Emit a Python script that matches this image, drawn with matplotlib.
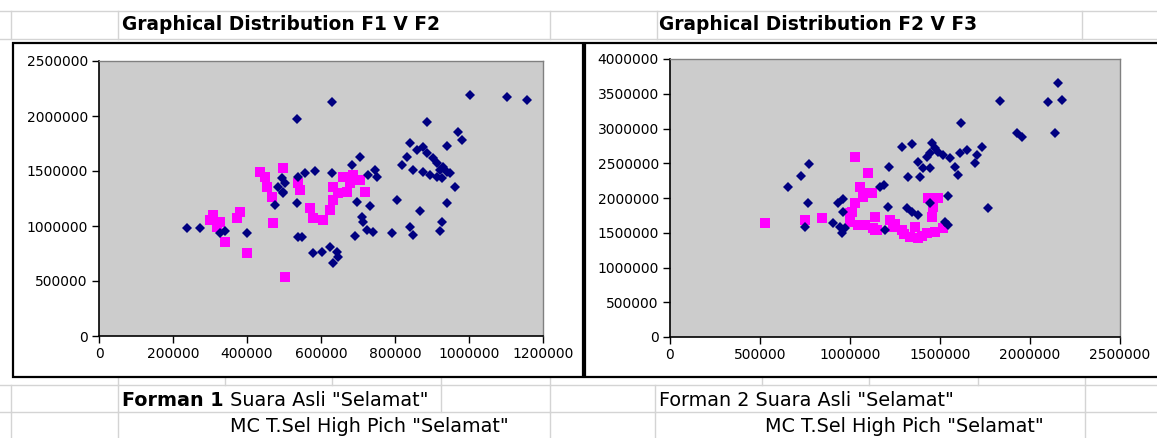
import matplotlib
matplotlib.use("Agg")
import matplotlib.pyplot as plt
from matplotlib.patches import Rectangle
from matplotlib.lines import Line2D

# ---------------- data ----------------
# Chart 1: F1 vs F2
f1_asli = [238000, 273000, 327000, 341000, 400000, 535000, 495000, 484000, 497000, 476000,
           535000, 538000, 630000, 886000, 1003000, 1103000, 1157000, 970000, 981000, 941000,
           841000, 832000, 819000, 859000, 876000, 886000, 903000, 914000, 922000, 930000,
           941000, 949000, 849000, 876000, 895000, 914000, 927000, 962000, 941000, 868000,
           805000, 927000, 922000, 841000, 849000, 792000, 741000, 724000, 714000, 711000,
           692000, 732000, 697000, 705000, 684000, 746000, 751000, 727000, 630000, 584000,
           557000, 538000, 503000, 497000, 549000, 578000, 603000, 624000, 643000, 632000,
           646000]
f2_asli = [982000, 982000, 936000, 955000, 936000, 1973000, 1436000, 1355000, 1300000, 1191000,
           1209000, 900000, 2127000, 1945000, 2191000, 2173000, 2145000, 1855000, 1782000, 1727000,
           1755000, 1627000, 1555000, 1691000, 1718000, 1664000, 1618000, 1573000, 1509000, 1536000,
           1491000, 1482000, 1509000, 1491000, 1464000, 1445000, 1436000, 1355000, 1209000, 1136000,
           1236000, 1036000, 955000, 991000, 918000, 936000, 945000, 964000, 1036000, 1082000,
           909000, 1182000, 1218000, 1627000, 1555000, 1509000, 1445000, 1464000, 1482000, 1500000,
           1482000, 1445000, 1391000, 1309000, 900000, 755000, 764000, 809000, 764000, 664000,
           718000]
f1_mc = [308000, 327000, 300000, 319000, 341000, 373000, 381000, 400000, 435000, 449000,
         454000, 468000, 470000, 497000, 503000, 538000, 543000, 570000, 578000, 605000,
         624000, 632000, 632000, 659000, 686000, 705000, 719000, 670000, 646000, 678000]
f2_mc = [1100000, 1036000, 1055000, 991000, 855000, 1073000, 1127000, 755000, 1491000, 1445000,
         1355000, 1264000, 1027000, 1527000, 536000, 1391000, 1327000, 1164000, 1073000, 1055000,
         1145000, 1236000, 1355000, 1445000, 1464000, 1418000, 1309000, 1309000, 1300000, 1391000]

# Chart 2: F2 vs F3
f2b_asli = [772000, 728000, 656000, 767000, 750000, 961000, 933000, 906000, 944000, 956000,
            972000, 961000, 1167000, 2156000, 2100000, 2178000, 2139000, 1833000, 1617000, 1928000,
            1956000, 1289000, 1344000, 1456000, 1472000, 1489000, 1444000, 1517000, 1556000, 1611000,
            1650000, 1706000, 1733000, 1694000, 1428000, 1378000, 1406000, 1389000, 1322000, 1444000,
            1583000, 1600000, 1217000, 1189000, 1211000, 1317000, 1344000, 1378000, 1544000, 1767000,
            1528000, 1544000, 1194000, 1444000]
f3_asli = [2489000, 2317000, 2158000, 1928000, 1583000, 1986000, 1928000, 1640000, 1583000, 1496000,
           1568000, 1799000, 2158000, 3655000, 3381000, 3410000, 2935000, 3396000, 3079000, 2935000,
           2878000, 2734000, 2777000, 2791000, 2719000, 2662000, 2647000, 2619000, 2576000, 2647000,
           2691000, 2619000, 2734000, 2504000, 2590000, 2518000, 2432000, 2302000, 2302000, 2432000,
           2446000, 2331000, 2446000, 2187000, 1871000, 1856000, 1799000, 1755000, 2029000, 1856000,
           1655000, 1612000, 1540000, 1928000]
f2b_mc = [528000, 750000, 844000, 1028000, 1100000, 1056000, 1072000, 1122000, 1028000, 1011000,
          1000000, 1044000, 1083000, 1128000, 1139000, 1111000, 1139000, 1239000, 1289000, 1333000,
          1378000, 1428000, 1472000, 1517000, 1456000, 1461000, 1489000, 1433000, 1222000, 1361000,
          1000000, 1150000, 1300000, 1400000, 1250000]
f3_mc = [1640000, 1683000, 1712000, 2590000, 2360000, 2158000, 2014000, 2072000, 1928000, 1799000,
         1655000, 1612000, 1612000, 1568000, 1727000, 2072000, 1540000, 1583000, 1540000, 1439000,
         1424000, 1496000, 1511000, 1568000, 1727000, 1871000, 2000000, 2000000, 1683000, 1583000,
         1784000, 1540000, 1480000, 1460000, 1620000]

x1_ticks = [0, 200000, 400000, 600000, 800000, 1000000, 1200000]
y1_ticks = [0, 500000, 1000000, 1500000, 2000000, 2500000]
x2_ticks = [0, 500000, 1000000, 1500000, 2000000, 2500000]
y2_ticks = [0, 500000, 1000000, 1500000, 2000000, 2500000, 3000000, 3500000, 4000000]

title1 = "Graphical Distribution F1 V F2"
title2 = "Graphical Distribution F2 V F3"

# ---------------- figure ----------------
W, H = 1157, 438
fig = plt.figure(figsize=(W / 100, H / 100), dpi=100)
fig.patch.set_facecolor("white")
plt.rcParams['font.family'] = ['DejaVu Sans']


def fx(px):
    return px / W


def fy(py):
    return 1 - py / H


grid_col = "#d4d4d4"


def hline(y, x0=0, x1=W):
    fig.add_artist(Line2D([fx(x0), fx(x1)], [fy(y), fy(y)], color=grid_col, lw=1, zorder=0))


def vline(x, y0, y1):
    fig.add_artist(Line2D([fx(x), fx(x)], [fy(y0), fy(y1)], color=grid_col, lw=1, zorder=0))


# spreadsheet grid
for y in [11, 39, 385, 412]:
    hline(y)
for x in [11, 118, 550, 657, 1082]:
    vline(x, 11, 39)
for x in [118, 225, 332, 441, 550, 762, 869, 978, 1085]:
    vline(x, 377, 385)
for x in [11, 118, 441, 550, 655, 1085]:
    vline(x, 385, 412)
for x in [11, 118, 550, 655, 1085]:
    vline(x, 412, 438)

# chart frames
fig.add_artist(Rectangle((fx(13), fy(377)), fx(583) - fx(13), fy(43) - fy(377),
                         transform=fig.transFigure, fill=True, facecolor="white",
                         edgecolor="black", lw=1.6, zorder=1))
fig.add_artist(Rectangle((fx(585), fy(377)), fx(1165) - fx(585), fy(43) - fy(377),
                         transform=fig.transFigure, fill=True, facecolor="white",
                         edgecolor="black", lw=1.6, zorder=1))

plot_bg = "#cccccc"
navy = "#000080"
magenta = "#ff00ff"
tick_fs = 10


def make_ax(l, t, r, b, xt, yt):
    ax = fig.add_axes([fx(l), fy(b), fx(r) - fx(l), fy(t) - fy(b)], zorder=2)
    ax.set_facecolor(plot_bg)
    ax.set_xlim(xt[0], xt[-1])
    ax.set_ylim(yt[0], yt[-1])
    ax.set_xticks(xt)
    ax.set_yticks(yt)
    ax.set_xticklabels([str(v) for v in xt], fontsize=tick_fs)
    ax.set_yticklabels([str(v) for v in yt], fontsize=tick_fs)
    for s in ["top", "right"]:
        ax.spines[s].set_color("#808080")
        ax.spines[s].set_linewidth(1.0)
    for s in ["left", "bottom"]:
        ax.spines[s].set_color("black")
        ax.spines[s].set_linewidth(1.2)
    ax.tick_params(direction="out", length=5, width=1.0, pad=3, colors="black")
    return ax


ax1 = make_ax(99, 61, 543, 336, x1_ticks, y1_ticks)
ax1.plot(f1_mc, f2_mc, linestyle="none", marker="s", ms=7.8, color=magenta,
         markeredgewidth=0, clip_on=False)
ax1.plot(f1_asli, f2_asli, linestyle="none", marker="D", ms=5.5, color=navy,
         markeredgewidth=0, clip_on=False)

ax2 = make_ax(670, 59, 1120, 337, x2_ticks, y2_ticks)
ax2.plot(f2b_mc, f3_mc, linestyle="none", marker="s", ms=7.8, color=magenta,
         markeredgewidth=0, clip_on=False)
ax2.plot(f2b_asli, f3_asli, linestyle="none", marker="D", ms=5.5, color=navy,
         markeredgewidth=0, clip_on=False)

# titles (in spreadsheet cells)
title_fs = 13.4
fig.text(fx(122), fy(24), title1, fontsize=title_fs, fontweight="bold", ha="left", va="center")
fig.text(fx(659), fy(24), title2, fontsize=title_fs, fontweight="bold", ha="left", va="center")

# captions below charts
cap_fs = 13.8
t1 = fig.text(fx(122), fy(400), "Forman 1", fontsize=cap_fs, fontweight="bold",
              ha="left", va="center")
ax2.annotate(' Suara Asli "Selamat"', xy=(1, 0), xycoords=t1, fontsize=cap_fs,
             ha="left", va="bottom", annotation_clip=False)
fig.text(fx(659), fy(400), 'Forman 2 Suara Asli "Selamat"', fontsize=cap_fs,
         ha="left", va="center")
fig.text(fx(230), fy(427), 'MC T.Sel High Pich "Selamat"', fontsize=cap_fs,
         ha="left", va="center")
fig.text(fx(765), fy(427), 'MC T.Sel High Pich "Selamat"', fontsize=cap_fs,
         ha="left", va="center")

fig.savefig("out.png", dpi=100, facecolor="white")
